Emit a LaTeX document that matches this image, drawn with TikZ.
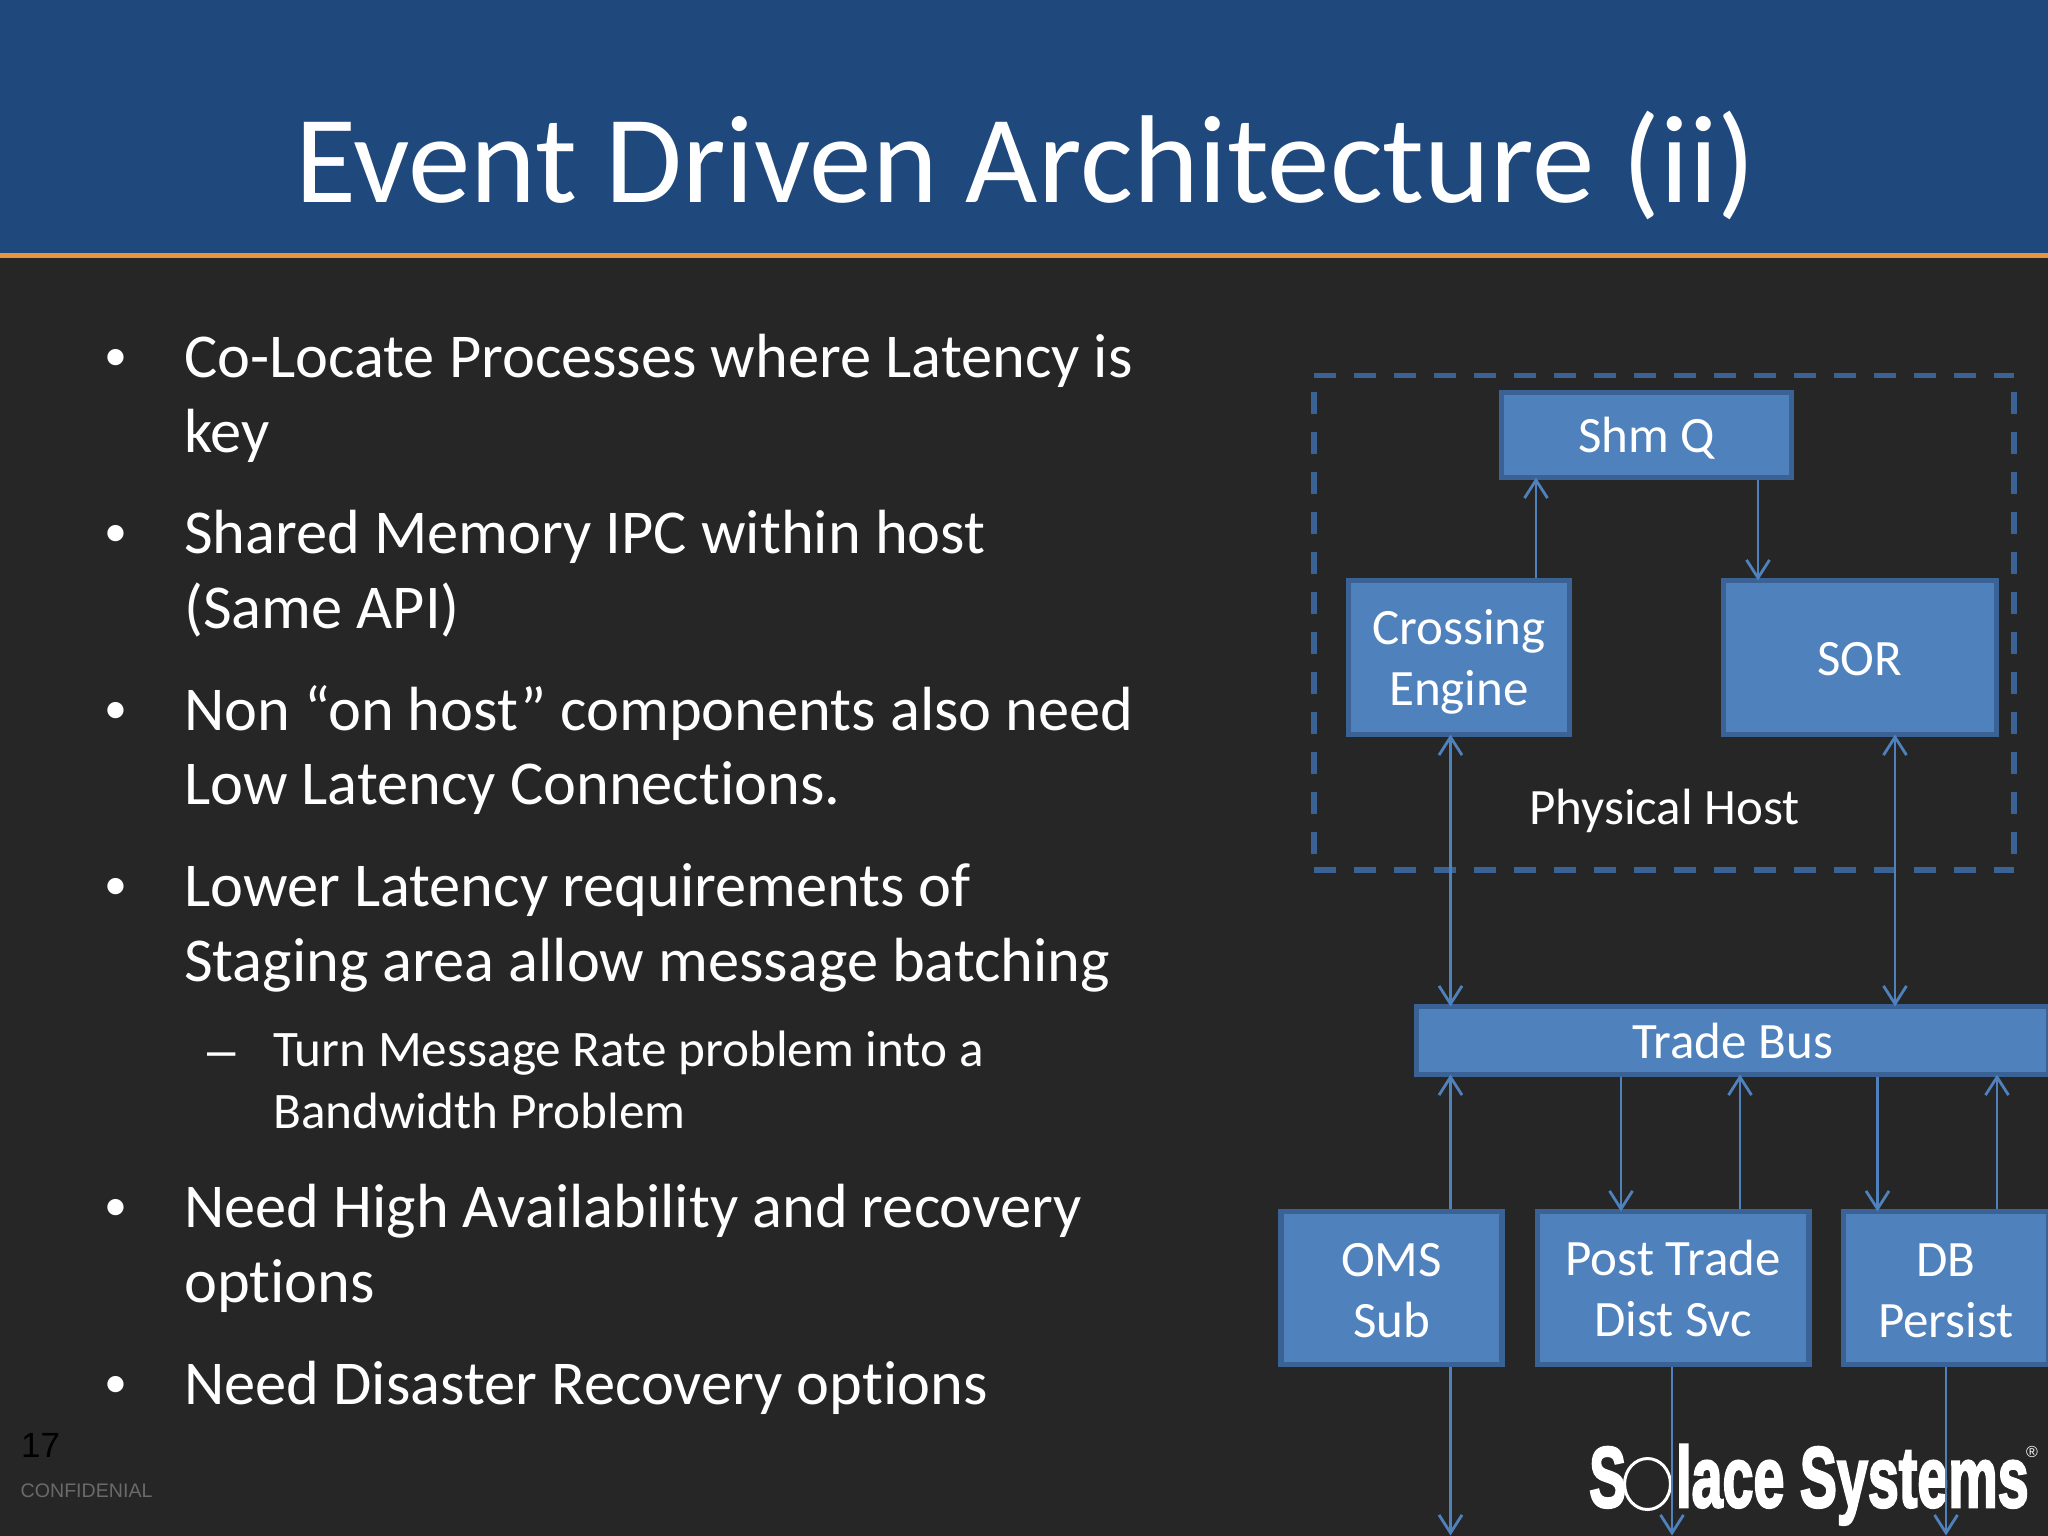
\documentclass[tikz,border=0pt]{standalone}
\usepackage{fontspec}
\setmainfont[Ligatures=NoCommon]{Carlito}
\newfontfamily\arialf{Liberation Sans}
\newfontfamily\logof[FakeBold=3]{Liberation Sans Bold}
\usetikzlibrary{arrows.meta}
\definecolor{bgc}{HTML}{262627}
\definecolor{headc}{HTML}{1F497D}
\definecolor{orangec}{HTML}{E8953F}
\definecolor{fillc}{HTML}{4F81BD}
\definecolor{edgec}{HTML}{3A6295}
\definecolor{confc}{HTML}{6A6A6C}
\newcommand{\lowr}[2]{\raisebox{-#1pt}[\height][\depth]{#2}}
\tikzset{
  boxn/.style={draw=edgec,fill=fillc,line width=5.3pt,inner sep=0pt,text=white,align=center,
    font=\fontsize{51}{61}\selectfont},
  lineb/.style={anchor=base west,inner sep=0pt,text=white,font=\fontsize{62.4}{75}\selectfont},
  lines/.style={anchor=base west,inner sep=0pt,text=white,font=\fontsize{51.2}{60}\selectfont},
  bul/.style={anchor=base,inner sep=0pt,text=white,font=\fontsize{46}{50}\selectfont},
  conn/.style={draw=fillc,line width=2.8pt,shorten >=-2.5pt},
  up/.style={conn,-{Straight Barb[length=18pt,width=23pt,line width=2.8pt]}},
  both/.style={conn,shorten <=-2.5pt,{Straight Barb[length=18pt,width=23pt,line width=2.8pt]}-{Straight Barb[length=18pt,width=23pt,line width=2.8pt]}},
  logot/.style={inner sep=0pt,text=white,anchor=base west},
}
\begin{document}
\begin{tikzpicture}[x=1pt,y=-1pt]
\useasboundingbox (0,0) rectangle (2048,1536);
\clip (0,0) rectangle (2048,1536);
\fill[bgc] (0,0) rectangle (2048,1536);
\fill[headc] (0,0) rectangle (2048,253);
\fill[orangec] (0,253) rectangle (2048,257.5);
\node[anchor=base,inner sep=0pt,text=white,font=\fontsize{125}{130}\selectfont] (title) at (1025.5,202) {Event Driven Architecture (ii)};

% bullets and text
\node[bul] (b1) at (116,370) {•};
\node[lineb] (t1a) at (184,377) {Co-Locate Processes where Latency is};
\node[lineb] (t1b) at (184,452) {key};
\node[bul] (b2) at (116,546) {•};
\node[lineb] (t2a) at (184,553) {Shared Memory IPC within host};
\node[lineb] (t2b) at (184,628) {(Same API)};
\node[bul] (b3) at (116,723) {•};
\node[lineb] (t3a) at (184,730) {Non “on host” components also need};
\node[lineb] (t3b) at (184,804.5) {Low Latency Connections.};
\node[bul] (b4) at (116,899) {•};
\node[lineb] (t4a) at (184,906) {Lower Latency requirements of};
\node[lineb] (t4b) at (184,981) {Staging area allow message batching};
\node[anchor=base,inner sep=0pt,text=white,font=\arialf\fontsize{51}{60}\selectfont] (d1) at (222,1067) {–};
\node[lines] (s1a) at (273,1066.7) {Turn Message Rate problem into a};
\node[lines] (s1b) at (273,1128.7) {Bandwidth Problem};
\node[bul] (b5) at (116,1220) {•};
\node[lineb] (t5a) at (184,1227) {Need High Availability and recovery};
\node[lineb] (t5b) at (184,1302) {options};
\node[bul] (b6) at (116,1397) {•};
\node[lineb] (t6a) at (184,1404) {Need Disaster Recovery options};

% footer
\node[anchor=base west,inner sep=0pt,text=black,font=\arialf\fontsize{35}{40}\selectfont] (num) at (21,1457) {17};
\node[anchor=base west,inner sep=0pt,text=confc,font=\arialf\fontsize{19.6}{24}\selectfont] (conf) at (20.5,1497) {CONFIDENIAL};

% logo
\node[logot,font=\logof\fontsize{86}{86}\selectfont,xscale=.647] (logoS) at (1589,1507) {S};
\node[draw=white,line width=3pt,circle,minimum size=51pt,inner sep=0pt,xscale=.9] (logoO) at (1647.5,1484) {};
\node[logot,font=\logof\fontsize{86}{86}\selectfont,xscale=.647] (logoT) at (1676,1507) {lace Systems};
\node[logot,font=\arialf\fontsize{16}{16}\selectfont] (logoR) at (2026,1457) {®};

% dashed host box
\draw[edgec,line width=5.3pt,dash pattern=on 22pt off 18pt] (1314,375.5) -- (2014,375.5);
\draw[edgec,line width=5.3pt,dash pattern=on 22pt off 18pt] (1314,392) -- (1314,870);
\draw[edgec,line width=5.3pt,dash pattern=on 22pt off 18pt] (2014,392) -- (2014,870);
\draw[edgec,line width=5.3pt,dash pattern=on 22pt off 18pt] (1314,870) -- (2014,870);

% boxes
\node[boxn,minimum width=289.7pt,minimum height=84.7pt] (shm) at (1646.5,435) {\lowr{3}{Shm Q}};
\node[boxn,minimum width=220.7pt,minimum height=153.7pt] (ce) at (1459,657.5) {\lowr{4}{Crossing}\\\lowr{4}{Engine}};
\node[boxn,minimum width=272.7pt,minimum height=153.7pt] (sor) at (1860,657.5) {\lowr{1.5}{SOR}};
\node[anchor=base,inner sep=0pt,text=white,font=\fontsize{51}{61}\selectfont] (host) at (1664.5,824.5) {Physical Host};
\node[boxn,minimum width=631.7pt,minimum height=67.7pt] (bus) at (1732.5,1040.5) {Trade Bus};
\node[boxn,minimum width=221.2pt,minimum height=152.7pt] (oms) at (1391.5,1288) {\lowr{3}{OMS}\\\lowr{3}{Sub}};
\node[boxn,minimum width=271.7pt,minimum height=152.7pt] (pts) at (1673,1288) {Post Trade\\Dist Svc};
\node[boxn,minimum width=204.7pt,minimum height=152.7pt] (db) at (1946,1288) {\lowr{3}{DB}\\\lowr{3}{Persist}};

% column coordinates
\coordinate (c1) at (1536,0);
\coordinate (c2) at (1758,0);
\coordinate (c3) at (1450.5,0);
\coordinate (c4) at (1895,0);
\coordinate (c5) at (1621,0);
\coordinate (c6) at (1740,0);
\coordinate (c7) at (1877.5,0);
\coordinate (c8) at (1997,0);
\coordinate (e1) at (1450.5,1533);
\coordinate (e2) at (1672,1533);
\coordinate (e3) at (1946,1533);

% connectors
\draw[up] (ce.north -| c1) -- (shm.south -| c1);
\draw[up] (shm.south -| c2) -- (sor.north -| c2);
\draw[both] (ce.south -| c3) -- (bus.north -| c3);
\draw[both] (sor.south -| c4) -- (bus.north -| c4);
\draw[up] (oms.north -| c3) -- (bus.south -| c3);
\draw[up] (bus.south -| c5) -- (pts.north -| c5);
\draw[up] (pts.north -| c6) -- (bus.south -| c6);
\draw[up] (bus.south -| c7) -- (db.north -| c7);
\draw[up] (db.north -| c8) -- (bus.south -| c8);
\draw[up] (oms.south -| e1) -- (e1);
\draw[up] (pts.south -| e2) -- (e2);
\draw[up] (db.south -| e3) -- (e3);
\end{tikzpicture}
\end{document}
